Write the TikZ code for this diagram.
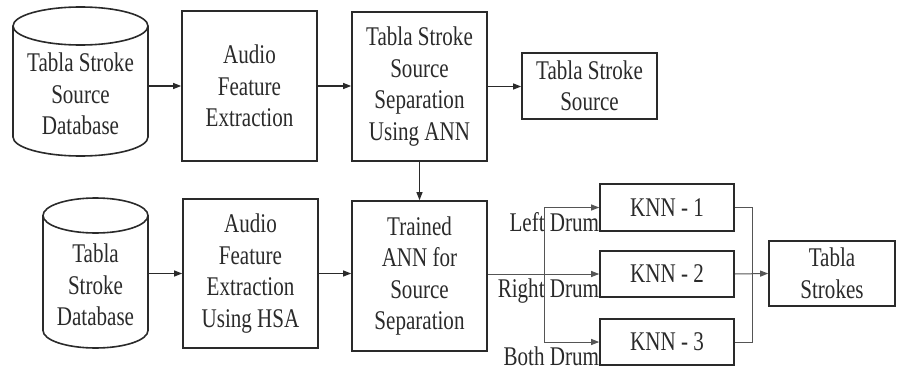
\documentclass[tikz,border=0pt]{standalone}
\usepackage{fontspec}
\setmainfont{Liberation Serif}[FakeStretch=0.78]
\usetikzlibrary{arrows.meta}
\definecolor{ink}{HTML}{2A2A2A}
\definecolor{wire}{HTML}{555555}
\begin{document}
\begin{tikzpicture}[x=1pt,y=-1pt,
  font=\fontsize{27}{31.5}\selectfont,
  box/.style={draw=ink, line width=1.6pt, text=ink, align=center, inner sep=0pt},
  lbl/.style={text=ink, inner sep=0pt, align=center},
  cyl/.style={draw=ink, line width=1.6pt},
  arr/.style={draw=ink, line width=1.1pt, -{Triangle[length=8pt,width=6pt]}},
  wireline/.style={draw=wire, line width=1pt},
  wirearr/.style={draw=wire, line width=1pt, -{Triangle[length=8pt,width=6pt]}}]
\useasboundingbox (0,0) rectangle (897,372);

% cylinders
\draw[cyl] (80.5,26) ellipse [x radius=67.5, y radius=19];
\draw[cyl] (13,26) -- (13,137) arc [start angle=180, end angle=0, x radius=67.5, y radius=19] -- (148,26);
\node[lbl, minimum width=135pt] (db1) at (80.5,94) {Tabla Stroke\\Source\\Database};

\draw[cyl] (95.5,215.5) ellipse [x radius=52.5, y radius=17.5];
\draw[cyl] (43,215.5) -- (43,330.5) arc [start angle=180, end angle=0, x radius=52.5, y radius=17.5] -- (148,215.5);
\node[lbl, minimum width=105pt] (db2) at (95.5,285) {Tabla\\Stroke\\Database};

% boxes
\node[box, minimum width=135pt, minimum height=150pt] (afe1) at (249.5,86) {Audio\\Feature\\Extraction};
\node[box, minimum width=135pt, minimum height=149pt] (ann1) at (419.5,86.5) {Tabla Stroke\\Source\\Separation\\Using ANN};
\node[box, minimum width=135pt, minimum height=66pt] (src) at (589.5,86) {Tabla Stroke\\Source};

\node[box, minimum width=135pt, minimum height=149pt] (afe2) at (250.5,273.5) {Audio\\Feature\\Extraction\\Using HSA};
\node[box, minimum width=135pt, minimum height=150pt] (tann) at (419.5,276) {Trained\\ANN for\\Source\\Separation};

\node[box, minimum width=134pt, minimum height=47pt] (knn1) at (667,207.5) {KNN - 1};
\node[box, minimum width=134pt, minimum height=46pt] (knn2) at (667,274) {KNN - 2};
\node[box, minimum width=134pt, minimum height=46pt] (knn3) at (667,342) {KNN - 3};
\node[box, minimum width=126pt, minimum height=65pt] (ts) at (832,273.5) {Tabla\\Strokes};

% labels
\node[lbl, anchor=base east] (l1) at (knn1.south west) {Left Drum};
\node[lbl, anchor=base east] (l2) at (knn2.south west) {Right Drum};
\node[lbl, anchor=base east] (l3) at (knn3.south west) {Both Drum};

% connectors
\draw[arr] (db1.east |- afe1.west) -- (afe1.west);
\draw[arr] (afe1.east) -- (afe1.east -| ann1.west);
\draw[arr] (ann1.east) -- (ann1.east -| src.west);
\draw[arr] (ann1.south) -- (tann.north);
\draw[arr] (db2.east |- afe2.west) -- (afe2.west);
\draw[arr] (afe2.east) -- (afe2.east -| tann.west);

\coordinate (split) at (544,274);
\coordinate (merge) at (752,274);
\draw[wirearr] (tann.east |- knn2.west) -- (knn2.west);
\draw[wireline] (split |- knn1.west) -- (split |- knn3.west);
\draw[wirearr] (split |- knn1.west) -- (knn1.west);
\draw[wirearr] (split |- knn3.west) -- (knn3.west);
\draw[wireline] (knn1.east) -- (merge |- knn1.east) -- (merge |- knn3.east) -- (knn3.east);
\draw[wirearr] (knn2.east) -- (ts.west);
\end{tikzpicture}
\end{document}
